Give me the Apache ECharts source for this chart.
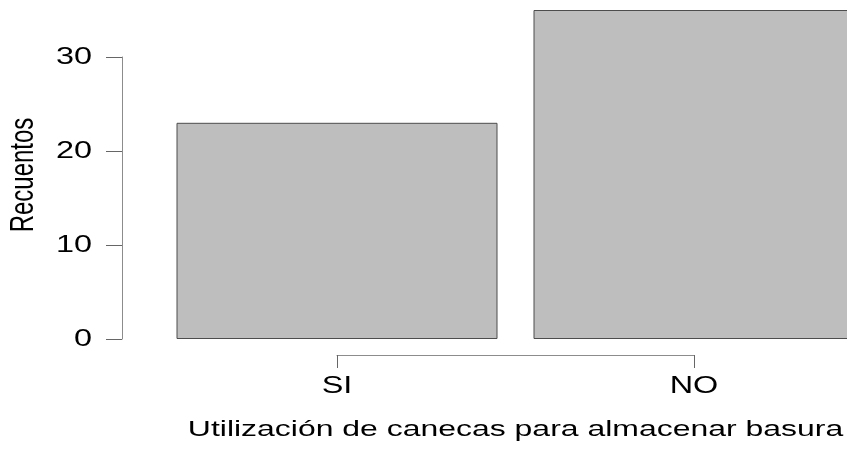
<!DOCTYPE html>
<html><head><meta charset="utf-8">
<script src="https://cdn.jsdelivr.net/npm/echarts@6/dist/echarts.min.js"></script>
<style>html,body{margin:0;padding:0;background:#fff}#c{width:847px;height:449px}</style>
</head><body><div id="c"></div>
<script>
const categories = ['SI', 'NO'];
const counts = [23, 35];
const yTicks = [0, 10, 20, 30];
const xTitle = 'Utilización de canecas para almacenar basura';
const yTitle = 'Recuentos';

const FONT = '"Liberation Sans", Arial, Helvetica, sans-serif';
const AX = '#8c8c8c';
const TICKC = '#666';
const STRETCH = 1.35;
const barData = categories.map((c, i) => [i, counts[i]]);
const chart = echarts.init(document.getElementById('c'), null, {renderer: 'canvas'});
chart.setOption({
  animation: false,
  backgroundColor: '#fff',
  grid: [
    {left: 158.5, right: 0, top: 10, bottom: 110, containLabel: false, outerBoundsMode: 'none'},
    {left: 122, width: 10, top: 57, bottom: 110, outerBoundsMode: 'none'},
    {left: 337, width: 357, top: 300, bottom: 94, outerBoundsMode: 'none'}
  ],
  xAxis: [
    {gridIndex: 0, type: 'value', min: -0.5, max: (847 - 337) / 357, show: false, splitLine: {show: false}},
    {gridIndex: 1, type: 'value', show: false},
    {gridIndex: 2, type: 'category', data: categories, boundaryGap: false,
     axisLine: {show: true, lineStyle: {color: AX, width: 1}},
     axisTick: {show: true, length: 13, lineStyle: {color: TICKC, width: 1}},
     axisLabel: {show: false}}
  ],
  yAxis: [
    {gridIndex: 0, type: 'value', min: 0, max: 35, show: false, splitLine: {show: false}},
    {gridIndex: 1, type: 'value', min: 0, max: yTicks[yTicks.length - 1], interval: 10,
     splitLine: {show: false},
     axisLine: {show: true, lineStyle: {color: AX, width: 1}},
     axisTick: {show: true, length: 16, lineStyle: {color: TICKC, width: 1}},
     axisLabel: {show: false}},
    {gridIndex: 2, type: 'value', show: false}
  ],
  series: [{
    type: 'bar', xAxisIndex: 0, yAxisIndex: 0, clip: false,
    data: barData, barWidth: 321,
    itemStyle: {color: '#bebebe', borderColor: '#4d4d4d', borderWidth: 1}
  }]
});

// Horizontally stretched text labels (reference glyphs are wider than normal),
// positioned from the axes' own scales.
const g = [];
const yAxisX = chart.convertToPixel({gridIndex: 1}, [0, 0])[0];
yTicks.forEach(v => {
  const py = chart.convertToPixel({yAxisIndex: 1}, v);
  g.push({type: 'text', x: yAxisX - 30, y: py, scaleX: STRETCH, silent: true,
    style: {text: String(v), fill: '#000', font: '24px ' + FONT, align: 'right', verticalAlign: 'middle'}});
});
const xAxisY = chart.convertToPixel({gridIndex: 2}, [0, 0])[1];
categories.forEach(c => {
  const px = chart.convertToPixel({xAxisIndex: 2}, c);
  g.push({type: 'text', x: px, y: xAxisY + 31, scaleX: STRETCH, silent: true,
    style: {text: c, fill: '#000', font: '24px ' + FONT, align: 'center', verticalAlign: 'middle'}});
});
g.push({type: 'text', x: 515.5, y: xAxisY + 75, scaleX: 1.42, silent: true,
  style: {text: xTitle, fill: '#000', font: '22.5px ' + FONT, align: 'center', verticalAlign: 'middle'}});
g.push({type: 'text', x: 24, y: 175, rotation: Math.PI / 2, scaleY: STRETCH, silent: true,
  style: {text: yTitle, fill: '#000', font: '24px ' + FONT, align: 'center', verticalAlign: 'middle'}});
chart.setOption({graphic: g});
</script></body></html>
